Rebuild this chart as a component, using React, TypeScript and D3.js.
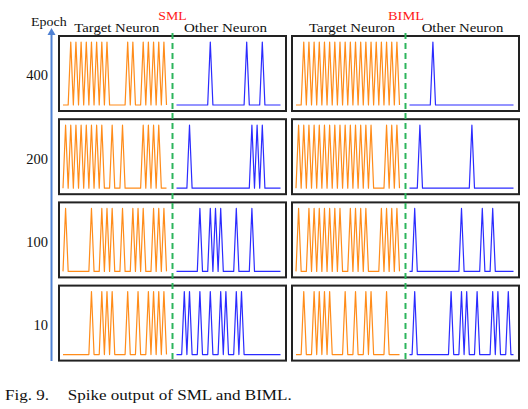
import React from 'react';
import * as d3 from 'd3';

// epochs, top to bottom
const epochs = ['400', '200', '100', '10'];

// spike time steps (value 1) for each epoch, 40 steps per trace
const smlTarget = [
  [3, 5, 7, 9, 11, 13, 15, 17, 25, 27, 31, 33, 35, 37, 39],
  [1, 3, 5, 7, 9, 11, 13, 15, 19, 23, 31, 33, 35, 37],
  [1, 11, 15, 17, 19, 23, 27, 29, 31, 35, 37, 39],
  [11, 15, 17, 19, 25, 29, 33, 35, 37, 39],
];
const smlOther = [
  [13, 27, 33],
  [5, 29, 31, 33],
  [9, 13, 15, 17, 23, 29],
  [3, 5, 9, 13, 17, 19, 23, 25],
];
const bimlTarget = [
  [3, 5, 7, 9, 11, 13, 15, 17, 19, 21, 23, 25, 27, 29, 31, 33, 35, 37, 39],
  [1, 3, 5, 7, 9, 11, 13, 15, 17, 19, 21, 23, 25, 27, 29, 35, 37, 39],
  [1, 5, 7, 9, 11, 13, 15, 17, 21, 23, 25, 27, 33, 35, 37, 39],
  [3, 7, 9, 11, 13, 19, 23, 27, 29, 35],
];
const bimlOther = [
  [9],
  [4, 24],
  [2, 20, 28, 32],
  [2, 16, 20, 22, 26, 32, 34, 38],
];

const STEPS = 40;
const ORANGE = '#ff8c1a';
const BLUE = '#2b2bff';
const GREEN = '#2db55d';
const AXIS = '#4f81d3';
const SERIF = '"Liberation Serif", "Times New Roman", serif';

const toSeries = (spikes: number[]) =>
  d3.range(STEPS + 1).map(i => (spikes.includes(i) ? 1 : 0));

const rowScale = d3.scaleBand<string>()
  .domain(epochs)
  .range([36, 360.6])
  .paddingInner(0.0986);

const steps = d3.scaleLinear().domain([0, STEPS]);

interface PanelProps {
  x0: number;
  x1: number;
  target: number[][];
  other: number[][];
  label: string;
  labelX: number;
  labelLen: number;
  targetX: number;
  targetLen: number;
  otherX: number;
  otherLen: number;
}

const Panel: React.FC<PanelProps> = ({ x0, x1, target, other, label, labelX, labelLen, targetX, targetLen, otherX, otherLen }) => {
  const mid = (x0 + x1) / 2;
  const xTarget = steps.copy().range([x0 + 4, mid - 6]);
  const xOther = steps.copy().range([mid + 4, mid + 108]);
  return (
    <g>
      <text x={labelX} y={19.5} fontSize={13} fill="#ff1a1a" textLength={labelLen} lengthAdjust="spacingAndGlyphs">{label}</text>
      <text x={targetX} y={32} fontSize={13.5} fill="#111" textLength={targetLen} lengthAdjust="spacingAndGlyphs">Target Neuron</text>
      <text x={otherX} y={32} fontSize={13.5} fill="#111" textLength={otherLen} lengthAdjust="spacingAndGlyphs">Other Neuron</text>
      {epochs.map((ep, r) => {
        const top = rowScale(ep)!;
        const h = rowScale.bandwidth();
        const y = d3.scaleLinear().domain([0, 1]).range([top + h - 6, top + 6]);
        const lt = d3.line<number>().x((_, i) => xTarget(i)).y(d => y(d));
        const lo = d3.line<number>().x((_, i) => xOther(i)).y(d => y(d));
        return (
          <g key={ep}>
            <rect x={x0} y={top} width={x1 - x0} height={h} fill="#fff" stroke="#222" strokeWidth={2} />
            <path d={lt(toSeries(target[r])) || ''} fill="none" stroke={ORANGE} strokeWidth={1.2} strokeLinejoin="round" />
            <path d={lo(toSeries(other[r])) || ''} fill="none" stroke={BLUE} strokeWidth={1.2} strokeLinejoin="round" />
          </g>
        );
      })}
      <line x1={mid} x2={mid} y1={33} y2={362} stroke={GREEN} strokeWidth={2} strokeDasharray="6,4" />
    </g>
  );
};

const App: React.FC = () => {
  return (
    <svg width={528} height={409} style={{ position: 'absolute', left: 0, top: 0, background: '#fff' }} fontFamily={SERIF}>
      {/* epoch axis */}
      <line x1={51.5} x2={51.5} y1={33} y2={361} stroke={AXIS} strokeWidth={2} />
      <path d="M47.5,35 L51.5,28 L55.5,35 Z" fill={AXIS} />
      <text x={31} y={25.5} fontSize={13} fill="#111" textLength={35.7} lengthAdjust="spacingAndGlyphs">Epoch</text>
      {epochs.map(ep => (
        <text key={ep} x={48} y={rowScale(ep)! + rowScale.bandwidth() / 2 + 7} fontSize={14.5} textAnchor="end" fill="#111">{ep}</text>
      ))}

      <Panel x0={59} x1={286} target={smlTarget} other={smlOther} label="SML" labelX={158.3} labelLen={28.4}
        targetX={74.3} targetLen={85} otherX={184} otherLen={83} />
      <Panel x0={292} x1={519} target={bimlTarget} other={bimlOther} label="BIML" labelX={388} labelLen={36}
        targetX={309} targetLen={86} otherX={421.7} otherLen={81.6} />

      <text x={5} y={399.5} fontSize={15} fill="#111" textLength={44} lengthAdjust="spacingAndGlyphs">Fig. 9.</text>
      <text x={67.7} y={399.5} fontSize={15} fill="#111" textLength={224} lengthAdjust="spacingAndGlyphs">Spike output of SML and BIML.</text>
    </svg>
  );
};

export default App;
